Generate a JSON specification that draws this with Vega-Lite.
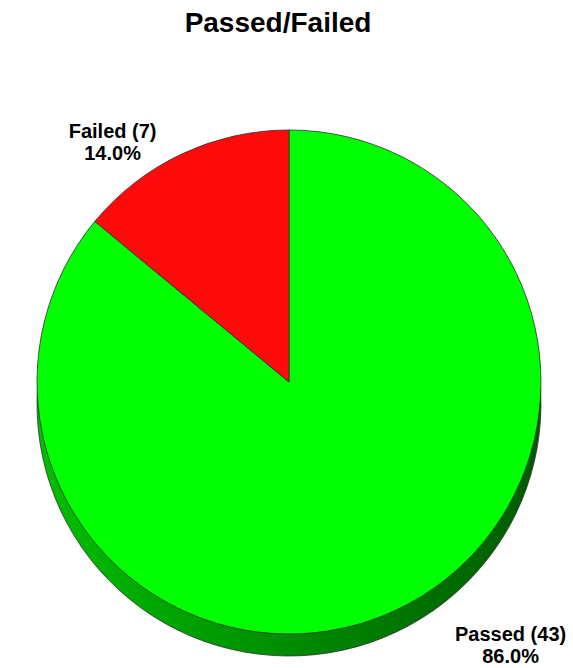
{
  "$schema": "https://vega.github.io/schema/vega-lite/v6.json",
  "width": 568,
  "height": 572,
  "autosize": {"type": "none"},
  "padding": {"top": 96, "left": 5, "right": 0, "bottom": 0},
  "background": "white",
  "view": {"stroke": null},
  "title": {
    "text": "Passed/Failed",
    "font": "Liberation Sans",
    "fontSize": 28,
    "fontWeight": "bold",
    "color": "black",
    "anchor": "middle",
    "dx": -11,
    "offset": 58
  },
  "data": {
    "values": [
      {"category": "Passed", "count": 43, "pct": "86.0%"},
      {"category": "Failed", "count": 7, "pct": "14.0%"}
    ]
  },
  "transform": [
    {"calculate": "datum.category + ' (' + datum.count + ')\\n' + datum.pct", "as": "label"}
  ],
  "encoding": {
    "theta": {"field": "count", "type": "quantitative", "stack": true},
    "order": {"field": "count", "sort": "descending"}
  },
  "layer": [
    {
      "mark": {
        "type": "arc",
        "outerRadius": 252,
        "yOffset": 22,
        "stroke": "#303030",
        "strokeWidth": 0.8,
        "color": {
          "gradient": "linear",
          "x1": 0, "y1": 0, "x2": 1, "y2": 0,
          "stops": [
            {"offset": 0, "color": "#00c000"},
            {"offset": 0.5, "color": "#008c00"},
            {"offset": 1, "color": "#005a00"}
          ]
        }
      },
      "encoding": {}
    },
    {
      "mark": {"type": "arc", "outerRadius": 252, "stroke": "#303030", "strokeWidth": 0.8},
      "encoding": {
        "color": {
          "field": "category",
          "type": "nominal",
          "scale": {"domain": ["Passed", "Failed"], "range": ["#00ff00", "#ff0a0a"]},
          "legend": null
        }
      }
    },
    {
      "mark": {
        "type": "text",
        "font": "Liberation Sans",
        "fontSize": 20,
        "fontWeight": "bold",
        "color": "black",
        "lineBreak": "\n",
        "lineHeight": 22,
        "align": "center",
        "baseline": "middle",
        "thetaOffset": -0.23,
        "dx": 8,
        "dy": -17
      },
      "encoding": {
        "text": {"field": "label", "type": "nominal"},
        "radius": {
          "field": "count",
          "type": "quantitative",
          "scale": {"type": "linear", "zero": false, "domain": [7, 43], "range": [297, 344]}
        }
      }
    }
  ]
}
